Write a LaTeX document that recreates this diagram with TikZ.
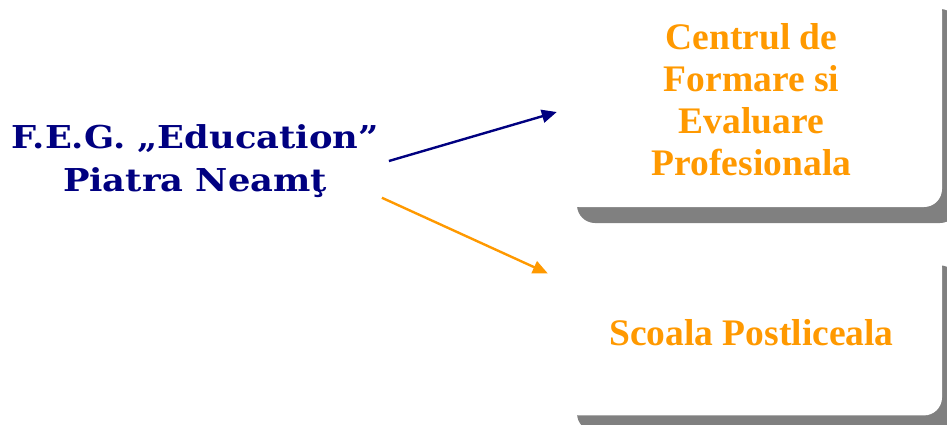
\documentclass[tikz,border=0pt]{standalone}
\usepackage{fontspec}
\setmainfont{Liberation Serif}
\newfontfamily\fegfont[FakeStretch=1.12]{DejaVu Serif}
\usetikzlibrary{arrows.meta, positioning, shadows}
\definecolor{fegblue}{HTML}{000080}
\definecolor{fegorange}{HTML}{FF9900}

\begin{document}
\begin{tikzpicture}[
    x=1pt, y=-1pt,
    unit/.style = {rectangle, rounded corners=18pt, fill=white,
      minimum width=381pt, text=fegorange, align=center,
      font=\fontsize{37.5}{42}\selectfont\bfseries,
      drop shadow={shadow xshift=16pt, shadow yshift=-16pt,
        fill=black!50, opacity=1}},
    link/.style = {line width=2.4pt, -{Triangle[length=15pt,width=13pt]}},
    ]

  \useasboundingbox (0,0) rectangle (947,424);

  \node[text=fegblue, align=center, inner sep=0pt,
    font=\fegfont\fontsize{31.5}{43}\selectfont\bfseries]
    (feg) at (195,161) {F.E.G. „Education”\\Piatra Neamţ} ;

  \node[unit, minimum height=214pt] (cfep) at (751.5,100)
    {Centrul de\\Formare si\\Evaluare\\Profesionala} ;
  \node[unit, minimum height=166pt] (sp) [below=42pt of cfep]
    {Scoala Postliceala} ;

  \draw[link, fegblue] ([xshift=10pt,yshift=0pt]feg.east)
    -- ([xshift=-4pt,yshift=-12pt]cfep.west) ;
  \draw[link, fegorange] ([xshift=3pt,yshift=0pt]feg.south east)
    -- ([xshift=-13pt,yshift=59pt]sp.west) ;
\end{tikzpicture}
\end{document}
